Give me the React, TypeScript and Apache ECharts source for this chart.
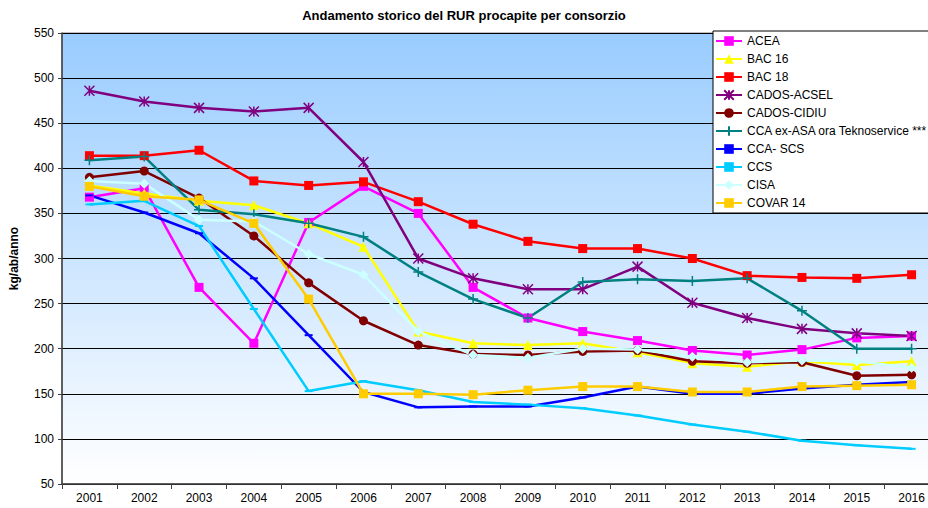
import React, { useEffect, useRef } from "react";
import * as echarts from "echarts";

const years = ["2001","2002","2003","2004","2005","2006","2007","2008","2009","2010","2011","2012","2013","2014","2015","2016"];

const acea = [368, 378, 268, 206, 340, 380, 350, 268, 234, 219, 209, 198, 193, 199, 212, 214];
const bac16 = [381, 372, 364, 359, 339, 313, 219, 206, 204, 206, 196, 184, 180, 186, 182, 186];
const bac18 = [414, 414, 420, 386, 381, 385, 363, 338, 319, 311, 311, 300, 281, 279, 278, 282];
const cadosAcsel = [486, 474, 467, 463, 467, 407, 300, 278, 266, 266, 291, 251, 234, 222, 217, 214];
const cadosCidiu = [390, 397, 367, 325, 273, 231, 204, 194, 193, 197, 198, 186, 184, 185, 170, 171];
const ccaExAsa = [409, 413, 354, 349, 339, 324, 285, 255, 234, 274, 277, 275, 278, 242, 200, 200];
const ccaScs = [370, 351, 328, 278, 215, 152, 135, 136, 136, 146, 158, 150, 150, 156, 160, 163];
const ccs = [360, 364, 336, 244, 153, 164, 154, 141, 138, 134, 126, 116, 108, 98, 93, 89];
const cisa = [386, 383, 343, 341, 305, 282, 219, 193, 190, 200, 199, 191, 185, 187, 186, 179];
const covar14 = [380, 369, 365, 339, 255, 150, 150, 149, 154, 158, 158, 152, 152, 158, 159, 160];

const titleText = "Andamento storico del RUR procapite per consorzio";
const yAxisName = "kg/ab/anno";
const seriesNames = ["ACEA", "BAC 16", "BAC 18", "CADOS-ACSEL", "CADOS-CIDIU", "CCA ex-ASA ora Teknoservice ***", "CCA- SCS", "CCS", "CISA", "COVAR 14"];
const seriesData = [acea, bac16, bac18, cadosAcsel, cadosCidiu, ccaExAsa, ccaScs, ccs, cisa, covar14];
const seriesColors = ["#FF00FF", "#FFFF00", "#FF0000", "#800080", "#800000", "#008080", "#0000FF", "#00CCFF", "#CCFFFF", "#FFCC00"];

const ASTERISK = "path://M0,0L10,10M10,0L0,10M5,0L5,10";
const PLUS = "path://M5,0L5,10M0,5L10,5";

const symbolDefs: any[] = [
  { symbol: "rect", size: 9 },
  { symbol: "triangle", size: 10 },
  { symbol: "rect", size: 9 },
  { symbol: ASTERISK, size: 10, stroke: true },
  { symbol: "circle", size: 9 },
  { symbol: PLUS, size: 10, stroke: true },
  { symbol: "rect", size: [8, 2] },
  { symbol: "rect", size: [8, 2] },
  { symbol: "diamond", size: 10 },
  { symbol: "rect", size: 9 },
];

export default function App() {
  const ref = useRef<HTMLDivElement>(null);
  useEffect(() => {
    if (!ref.current) return;
    const chart = echarts.init(ref.current, undefined, { renderer: "svg" });
    const font = "Liberation Sans, Arial, sans-serif";
    const series = seriesNames.map((name, i) => {
      const d = symbolDefs[i];
      return {
        name,
        type: "line",
        data: seriesData[i],
        symbol: d.symbol,
        symbolSize: d.size,
        showAllSymbol: true,
        lineStyle: { color: seriesColors[i], width: 2.5 },
        itemStyle: d.stroke
          ? { color: seriesColors[i], borderColor: seriesColors[i], borderWidth: 1.5 }
          : { color: seriesColors[i], borderWidth: 0 },
        emphasis: { disabled: true },
      };
    });
    chart.setOption({
      animation: false,
      backgroundColor: "#FFFFFF",
      textStyle: { fontFamily: font },
      graphic: [
        {
          type: "text",
          x: 464,
          y: 9,
          style: {
            text: titleText,
            textAlign: "center",
            textVerticalAlign: "top",
            fontSize: 13,
            fontWeight: "bold",
            fill: "#000",
            fontFamily: font,
          },
        },
      ],
      legend: {
        orient: "vertical",
        left: 713,
        top: 31,
        backgroundColor: "#FFFFFF",
        borderColor: "#000000",
        borderWidth: 1,
        padding: [4, 6, 4, 2],
        itemGap: 6,
        itemWidth: 26,
        itemHeight: 12,
        textStyle: { fontSize: 12, color: "#000", fontFamily: font },
        data: seriesNames,
      },
      grid: {
        left: 61,
        top: 33,
        width: 878,
        bottom: 24,
        show: true,
        borderColor: "#808080",
        borderWidth: 1,
        backgroundColor: new echarts.graphic.LinearGradient(0, 0, 0, 1, [
          { offset: 0, color: "#99CCFF" },
          { offset: 1, color: "#FFFFFF" },
        ]),
      },
      xAxis: {
        type: "category",
        data: years,
        boundaryGap: true,
        axisLine: { lineStyle: { color: "#404040", width: 1.5 } },
        axisTick: { show: true, length: 5, lineStyle: { color: "#404040" } },
        axisLabel: { fontSize: 12, color: "#000", margin: 8, fontFamily: font },
      },
      yAxis: {
        type: "value",
        min: 50,
        max: 550,
        interval: 50,
        name: yAxisName,
        nameLocation: "middle",
        nameRotate: 90,
        nameGap: 42,
        nameTextStyle: { fontSize: 12, fontWeight: "bold", color: "#000", fontFamily: font },
        axisLine: { show: true, lineStyle: { color: "#404040", width: 1.5 } },
        axisTick: { show: true, length: 4, lineStyle: { color: "#404040" } },
        axisLabel: { fontSize: 12, color: "#000", margin: 8, fontFamily: font },
        splitLine: { show: true, lineStyle: { color: "#000000", width: 1 } },
      },
      series,
    });
    return () => chart.dispose();
  }, []);
  return <div ref={ref} style={{ width: 960, height: 508, position: "fixed", left: 0, top: 0 }} />;
}
